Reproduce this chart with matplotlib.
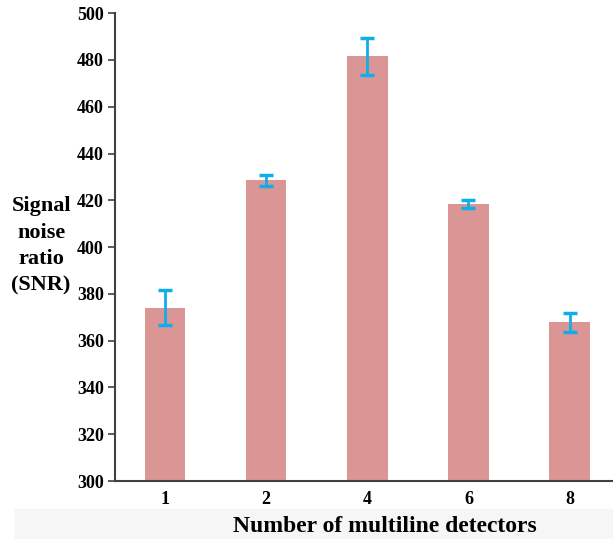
import numpy as np
import matplotlib.pyplot as plt
from matplotlib.patches import Rectangle

detectors = ['1', '2', '4', '6', '8']
snr = [374.0, 428.5, 481.5, 418.3, 367.8]
snr_err = [7.5, 2.3, 7.8, 1.7, 4.0]

plt.rcParams['font.family'] = ['Liberation Serif', 'DejaVu Serif']
plt.rcParams['font.weight'] = 'bold'

fig = plt.figure(figsize=(6.13, 5.39), dpi=100)
# light band behind the x label
fig.patches.append(Rectangle((0.025, 0.0), 0.975, 0.055, transform=fig.transFigure,
                             color='#f6f6f6', zorder=0))
ax = fig.add_axes([0.1876, 0.1076, 0.8124, 0.868])
x = np.arange(len(detectors))
ax.bar(x, snr, width=0.4, color='#d99694', zorder=2)
ax.errorbar(x, snr, yerr=snr_err, fmt='none', ecolor='#10aee8', elinewidth=2,
            capsize=5, capthick=2.5, zorder=3)

ax.set_ylim(300, 500)
ax.set_xlim(-0.495, 4.43)
ax.set_yticks(np.arange(300, 501, 20))
ax.set_xticks(x)
ax.set_xticklabels(detectors)
ax.tick_params(axis='y', direction='out', length=5, width=1.2, color='#404040',
               labelsize=13, pad=3)
ax.tick_params(axis='x', length=0, labelsize=13, pad=7)
for lab in ax.get_xticklabels() + ax.get_yticklabels():
    lab.set_fontweight('bold')
for s in ['top', 'right']:
    ax.spines[s].set_visible(False)
for s in ['left', 'bottom']:
    ax.spines[s].set_color('#404040')
    ax.spines[s].set_linewidth(1.5)

fig.text(0.628, 0.024, 'Number of multiline detectors', fontsize=17, fontweight='bold',
         ha='center', va='center')
fig.text(0.067, 0.544, 'Signal\nnoise\nratio\n(SNR)', fontsize=16, fontweight='bold',
         ha='center', va='center', multialignment='center', linespacing=1.42)

fig.savefig('out.png', dpi=100, facecolor='white')
